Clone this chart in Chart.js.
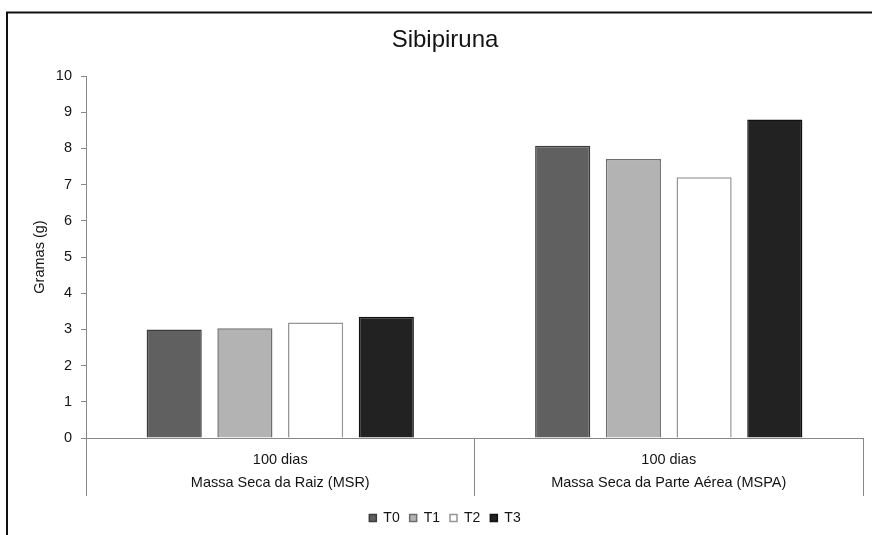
<!DOCTYPE html>
<html>
<head>
<meta charset="utf-8">
<title>Sibipiruna</title>
<script src="https://cdn.jsdelivr.net/npm/chart.js@4/dist/chart.umd.min.js"></script>
<style>
  html, body { margin: 0; padding: 0; background: #fff; overflow: hidden; }
  #wrap { position: relative; width: 872px; height: 535px; }
  canvas { display: block; }
</style>
</head>
<body>
<div id="wrap"><canvas id="chart" width="872" height="535"></canvas></div>
<script>
// Categories (two-line labels: period / variable)
const categories = [
  ["100 dias", "Massa Seca da Raiz (MSR)"],
  ["100 dias", "Massa Seca da Parte Aérea (MSPA)"]
];

// Treatments and their dry mass (g)
const seriesNames = ["T0", "T1", "T2", "T3"];
const valuesT0 = [3.00, 8.07];
const valuesT1 = [3.03, 7.71];
const valuesT2 = [3.19, 7.20];
const valuesT3 = [3.35, 8.80];

// Y axis range
const yMin = 0;
const yMax = 10;
const yStep = 1;

const fills = ["#606060", "#b3b3b3", "#ffffff", "#222222"];
const edges = ["#3c3c3c", "#6e6e6e", "#959595", "#111111"];
const seriesValues = [valuesT0, valuesT1, valuesT2, valuesT3];

const FONT = "'Liberation Sans', Arial, sans-serif";
const TEXT = "#141414";
const AXIS = "#888888";
const LABEL_SIZE = 14.5;

// Outer frame of the chart
const framePlugin = {
  id: "frame",
  afterDraw(chart) {
    const ctx = chart.ctx;
    ctx.save();
    ctx.strokeStyle = "#111";
    ctx.lineWidth = 2;
    ctx.beginPath();
    ctx.moveTo(7, 535);
    ctx.lineTo(7, 12.5);
    ctx.lineTo(872, 12.5);
    ctx.stroke();
    ctx.restore();
  }
};

const whiteBg = {
  id: "whiteBg",
  beforeDraw(chart) {
    const ctx = chart.ctx;
    ctx.save();
    ctx.fillStyle = "#fff";
    ctx.fillRect(0, 0, chart.width, chart.height);
    ctx.restore();
  }
};

new Chart(document.getElementById("chart"), {
  type: "bar",
  data: {
    labels: categories,
    datasets: seriesNames.map((name, i) => ({
      label: name,
      data: seriesValues[i],
      backgroundColor: fills[i],
      borderColor: edges[i],
      borderWidth: 1.5,
      borderSkipped: "start",
      categoryPercentage: 0.728,
      barPercentage: 0.78
    }))
  },
  options: {
    responsive: false,
    animation: false,
    devicePixelRatio: 1,
    layout: { padding: { left: 27, right: 9, top: 0, bottom: 0 } },
    plugins: {
      title: {
        display: true,
        text: "Sibipiruna",
        color: TEXT,
        font: { family: FONT, size: 24, weight: "normal" },
        padding: { top: 25.6, bottom: 21.6 }
      },
      legend: {
        display: true,
        position: "bottom",
        labels: {
          color: TEXT,
          font: { family: FONT, size: 14 },
          boxWidth: 7,
          boxHeight: 7,
          padding: 10
        }
      },
      tooltip: { enabled: false }
    },
    scales: {
      x: {
        grid: {
          display: true,
          drawOnChartArea: false,
          drawTicks: true,
          tickLength: 58,
          color: AXIS,
          lineWidth: 1,
          offset: true
        },
        border: { display: true, color: AXIS, width: 1 },
        ticks: {
          color: TEXT,
          font: { family: FONT, size: LABEL_SIZE, lineHeight: 23 / LABEL_SIZE },
          padding: -47.5,
          maxRotation: 0,
          autoSkip: false
        },
        afterFit(scale) { scale.height = 63; }
      },
      y: {
        min: yMin,
        max: yMax,
        grid: {
          display: true,
          drawOnChartArea: false,
          drawTicks: true,
          tickLength: 5,
          color: AXIS
        },
        border: { display: true, color: AXIS, width: 1 },
        ticks: {
          stepSize: yStep,
          color: TEXT,
          font: { family: FONT, size: LABEL_SIZE },
          padding: 9
        },
        title: {
          display: true,
          text: "Gramas (g)",
          color: TEXT,
          font: { family: FONT, size: LABEL_SIZE },
          padding: { top: 4.3, bottom: 0 }
        },
        afterFit(scale) { scale.width = 59; }
      }
    }
  },
  plugins: [whiteBg, framePlugin]
});
</script>
</body>
</html>
